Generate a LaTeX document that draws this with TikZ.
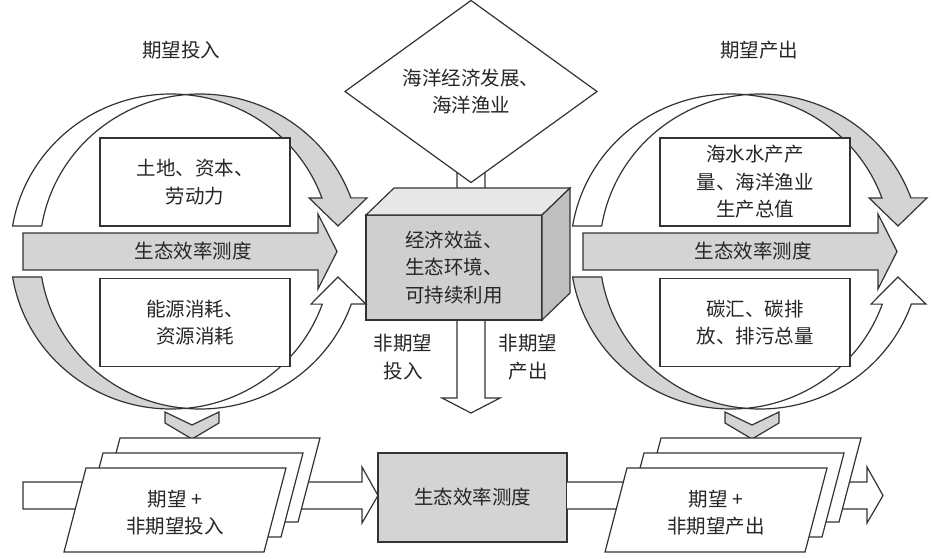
\documentclass[tikz,border=0pt]{standalone}
\usepackage{fontspec}
\setmainfont{Noto Sans CJK SC}
\usetikzlibrary{shapes.geometric}
\def\rx{160.5}
\def\ry{157.5}

\begin{document}
\begin{tikzpicture}[
    x=1pt, y=1pt,
    every node/.style={font=\fontsize{19.5}{27.5}\selectfont, text=black!85,
      align=center, inner sep=0pt, outer sep=0pt},
    lined/.style={draw=black!80, line width=1.2pt, line join=miter},
    paper/.style={lined, fill=white},
    toned/.style={lined, fill=black!17},
    box/.style={paper, minimum width=190, minimum height=88},
    ring/.style={x radius=\rx, y radius=\ry},
  ]
  \useasboundingbox (0,0) rectangle (933,558);

  % --- centre: vertical arrow, cube and diamond ------------------------------
  \draw[paper] (457,400) -- (457,160) -- (442,160) -- (471,145) -- (500,160)
    -- (485,160) -- (485,400) -- cycle;
  \node[toned, fill=black!19, minimum width=176, minimum height=105] (hub)
    at (454,290.5) {经济效益、\\生态环境、\\可持续利用};
  \draw[lined, fill=black!9] (hub.north west) -- ++(28,27) -- ++(176,0)
    -- (hub.north east) -- cycle;
  \draw[lined, fill=black!25] (hub.south east) -- ++(28,27) -- ++(0,105)
    -- (hub.north east) -- cycle;
  \node[paper, diamond, minimum width=252, minimum height=167] (sea)
    at (471,466.5) {海洋经济发展、\\海洋渔业};
  \node (undin) at (403,201) {非期望\\投入};
  \node (undout) at (528,201) {非期望\\产出};

  % --- input and output loops: two ribbons, grey arrow, two boxes ----------
  \foreach \dx/\side/\tx/\ttl/\upper/\lower in {
      0/in/181/期望投入/{土地、资本、\\劳动力}/{能源消耗、\\资源消耗},
      560/out/199/期望产出/{海水水产产\\量、海洋渔业\\生产总值}/{碳汇、碳排\\放、排污总量}} {
    \begin{scope}[xshift=\dx pt]
      \coordinate (l\side) at (171,306.5);
      \coordinate (r\side) at (200,306.5);
      \node (title\side) at (\tx,508) {\ttl};
      % upper ribbon
      \draw[paper] (l\side) ++(170.7:{\rx} and {\ry})
        arc[ring, start angle=170.7, end angle=84.8]
        arc[ring, start angle=95.2, end angle=170.7] -- cycle;
      \draw[toned] (r\side) ++(95.2:{\rx} and {\ry})
        arc[ring, start angle=95.2, end angle=19.9]
        -- (367,360.1) -- (338,332) -- (309,360.1) -- (321.9,360.1)
        arc[ring, start angle=19.9, end angle=84.8] -- cycle;
      % lower ribbon
      \draw[toned] (l\side) ++(189.3:{\rx} and {\ry})
        arc[ring, start angle=189.3, end angle=275.2]
        arc[ring, start angle=264.8, end angle=189.3] -- cycle;
      \draw[paper] (r\side) ++(264.8:{\rx} and {\ry})
        arc[ring, start angle=264.8, end angle=340.5]
        -- (366,253.9) -- (338,281) -- (311,253.9) -- (322.3,253.9)
        arc[ring, start angle=340.5, end angle=275.2] -- cycle;
      % measuring arrow and the two boxes
      \draw[toned] (23,288) -- (318,288) -- (318,269) -- (337,306.5)
        -- (318,344) -- (318,325) -- (23,325) -- cycle;
      \node (rate\side) at (193,306.5) {生态效率测度};
      \node[box] (top\side) at (195,376) {\upper};
      \node[box] (low\side) at (195,235.5) {\lower};
      % chevron under the loop
      \draw[toned] (165,146) -- (192,133) -- (219,146) -- (219,135)
        -- (192,119) -- (165,135) -- cycle;
    \end{scope}
  }

  % --- bottom row ------------------------------------------------------------
  \draw[paper] (23,49) -- (362,49) -- (362,35) -- (378,62.5) -- (362,91)
    -- (362,76) -- (23,76) -- cycle;
  \node[toned, line width=1.6pt, minimum width=189, minimum height=89] (measure)
    at (472.5,60.5) {生态效率测度};
  \draw[paper] (567,49) -- (867,49) -- (867,35) -- (883,62.5) -- (867,91)
    -- (867,76) -- (567,76);
  \foreach \sx/\side/\lab in {0/in/{期望 +\\非期望投入}, 541/out/{期望 +\\非期望产出}} {
    \foreach \k in {2,1,0}
      \draw[paper] ({64+\sx+17*\k},{6+15*\k}) -- ++(200,0) -- ++(22,84)
        -- ++(-200,0) -- cycle;
    \node (stack\side) at (175+\sx,45.5) {\lab};
  }

\end{tikzpicture}
\end{document}
